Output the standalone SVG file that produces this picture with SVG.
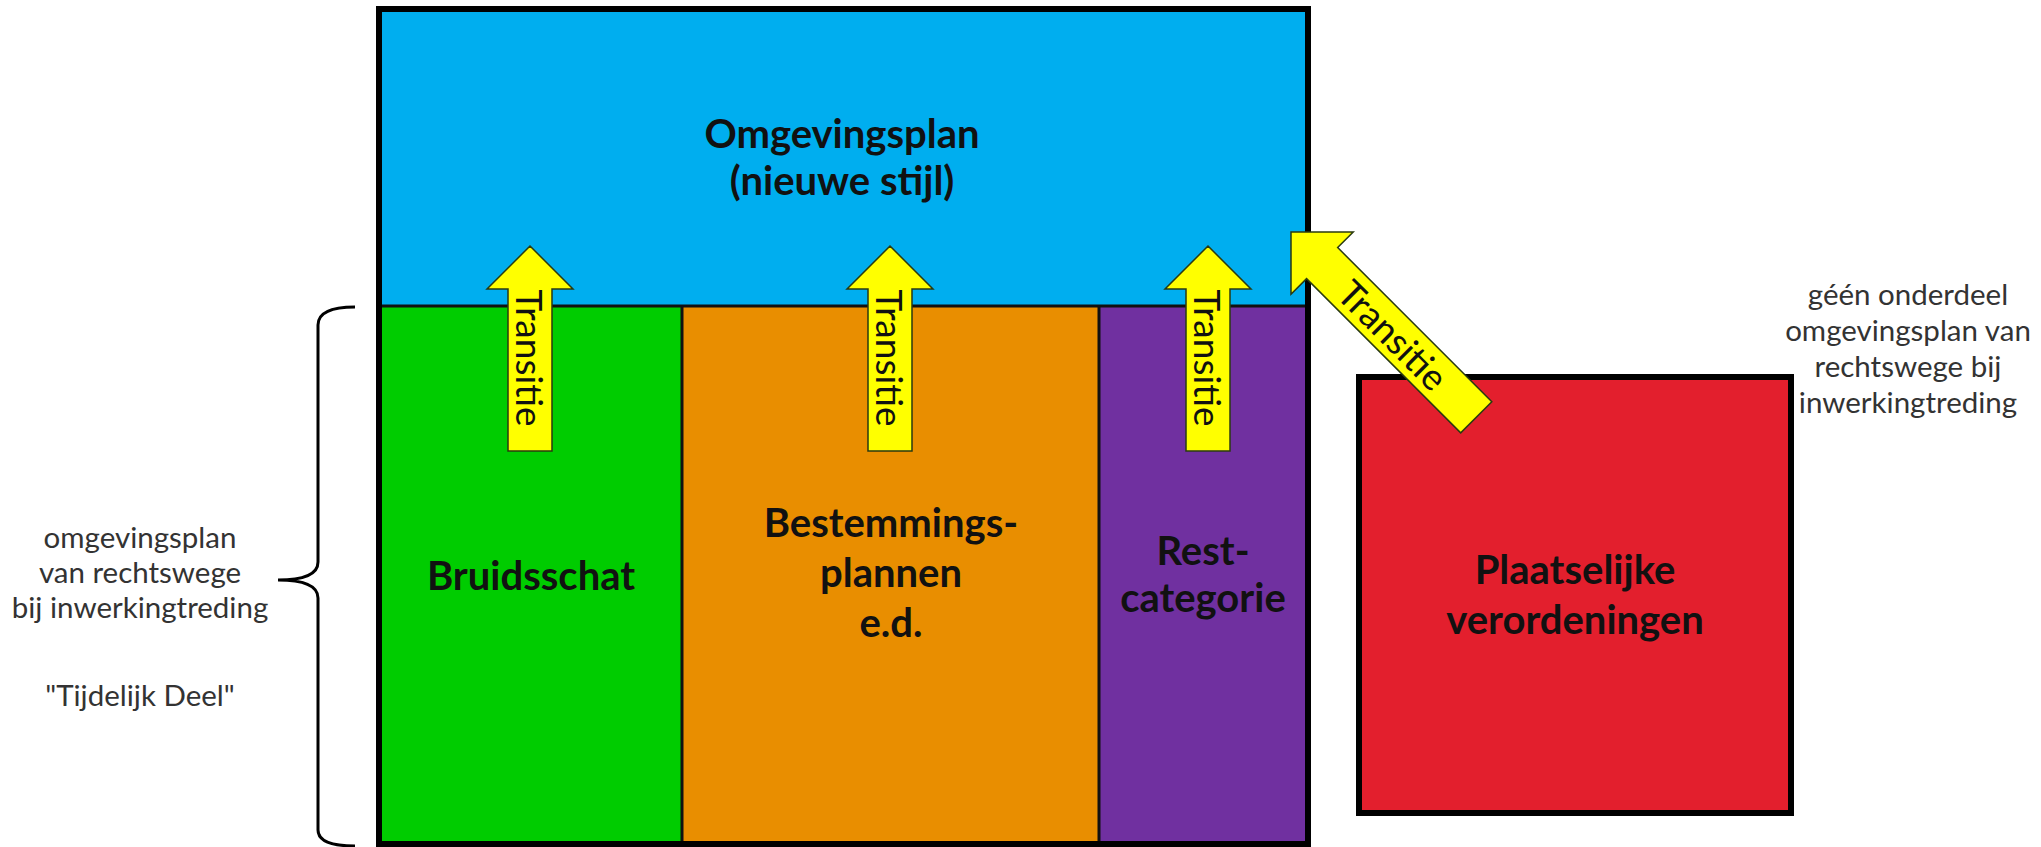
<svg xmlns="http://www.w3.org/2000/svg" width="2041" height="847" viewBox="0 0 2041 847">
  <style>
    .lbl { font-family: Lato, "Liberation Sans", sans-serif; font-weight: bold; font-size: 40px; fill: #111; text-anchor: middle; }
    .note { font-family: Lato, "Liberation Sans", sans-serif; font-size: 29.5px; fill: #333; text-anchor: middle; }
    .tr { font-family: Lato, "Liberation Sans", sans-serif; font-size: 37px; fill: #111; text-anchor: middle; dominant-baseline: central; }
    .arrow { fill: #FFFF00; stroke: #2a3a10; stroke-width: 1.5; stroke-linejoin: miter; }
    .div { stroke: #111; stroke-width: 3; fill: none; }
    .frame { fill: none; stroke: #000; stroke-width: 6; }
  </style>
  <defs>
    <path id="arrV" d="M0,0 L43,43 L22,43 L22,205 L-22,205 L-22,43 L-43,43 Z"/>
    <path id="arrD" d="M0,0 L44,44 L22,44 L22,262 L-22,262 L-22,44 L-44,44 Z"/>
  </defs>
  <rect width="2041" height="847" fill="#fff"/>

  <g id="omgevingsplan">
    <rect x="379" y="9" width="929" height="297" fill="#00AEEF"/>
    <text class="lbl" x="842" y="148">Omgevingsplan</text>
    <text class="lbl" x="842" y="195">(nieuwe stijl)</text>
  </g>

  <g id="bruidsschat">
    <rect x="379" y="306" width="303" height="538" fill="#00CC00"/>
    <text class="lbl" x="531" y="590">Bruidsschat</text>
  </g>

  <g id="bestemmingsplannen">
    <rect x="682" y="306" width="417" height="538" fill="#E98E00"/>
    <text class="lbl" x="891" y="537">Bestemmings-</text>
    <text class="lbl" x="891" y="587">plannen</text>
    <text class="lbl" x="891" y="637">e.d.</text>
  </g>

  <g id="restcategorie">
    <rect x="1099" y="306" width="209" height="538" fill="#7030A0"/>
    <text class="lbl" x="1203" y="565">Rest-</text>
    <text class="lbl" x="1203" y="612">categorie</text>
  </g>

  <g id="dividers">
    <line class="div" x1="379" y1="306" x2="1308" y2="306"/>
    <line class="div" x1="682" y1="306" x2="682" y2="844"/>
    <line class="div" x1="1099" y1="306" x2="1099" y2="844"/>
    <rect class="frame" x="379" y="9" width="929" height="835"/>
  </g>

  <g id="plaatselijke-verordeningen">
    <rect x="1359" y="377" width="432" height="436" fill="#E31F2D" stroke="#000" stroke-width="6"/>
    <text class="lbl" x="1575" y="584">Plaatselijke</text>
    <text class="lbl" x="1575" y="634">verordeningen</text>
  </g>

  <g id="note-right">
    <text class="note" x="1908" y="305">géén onderdeel</text>
    <text class="note" x="1908" y="341">omgevingsplan van</text>
    <text class="note" x="1908" y="377">rechtswege bij</text>
    <text class="note" x="1908" y="413">inwerkingtreding</text>
  </g>

  <g id="note-left">
    <path d="M355,307 Q318,307 318,325 L318,562 Q318,580 278,580 Q318,580 318,598 L318,830 Q318,846 355,846" fill="none" stroke="#000" stroke-width="3"/>
    <text class="note" x="140" y="548">omgevingsplan</text>
    <text class="note" x="140" y="583">van rechtswege</text>
    <text class="note" x="140" y="618">bij inwerkingtreding</text>
    <text class="note" x="140" y="706">"Tijdelijk Deel"</text>
  </g>

  <g id="connectors">
    <g transform="translate(530,246)">
      <use href="#arrV" class="arrow"/>
      <text class="tr" transform="translate(0,112) rotate(90)">Transitie</text>
    </g>
    <g transform="translate(890,246)">
      <use href="#arrV" class="arrow"/>
      <text class="tr" transform="translate(0,112) rotate(90)">Transitie</text>
    </g>
    <g transform="translate(1208,246)">
      <use href="#arrV" class="arrow"/>
      <text class="tr" transform="translate(0,112) rotate(90)">Transitie</text>
    </g>
    <g transform="translate(1291,232) rotate(-45)">
      <use href="#arrD" class="arrow"/>
      <text class="tr" transform="translate(0,145) rotate(90)">Transitie</text>
    </g>
  </g>
</svg>
